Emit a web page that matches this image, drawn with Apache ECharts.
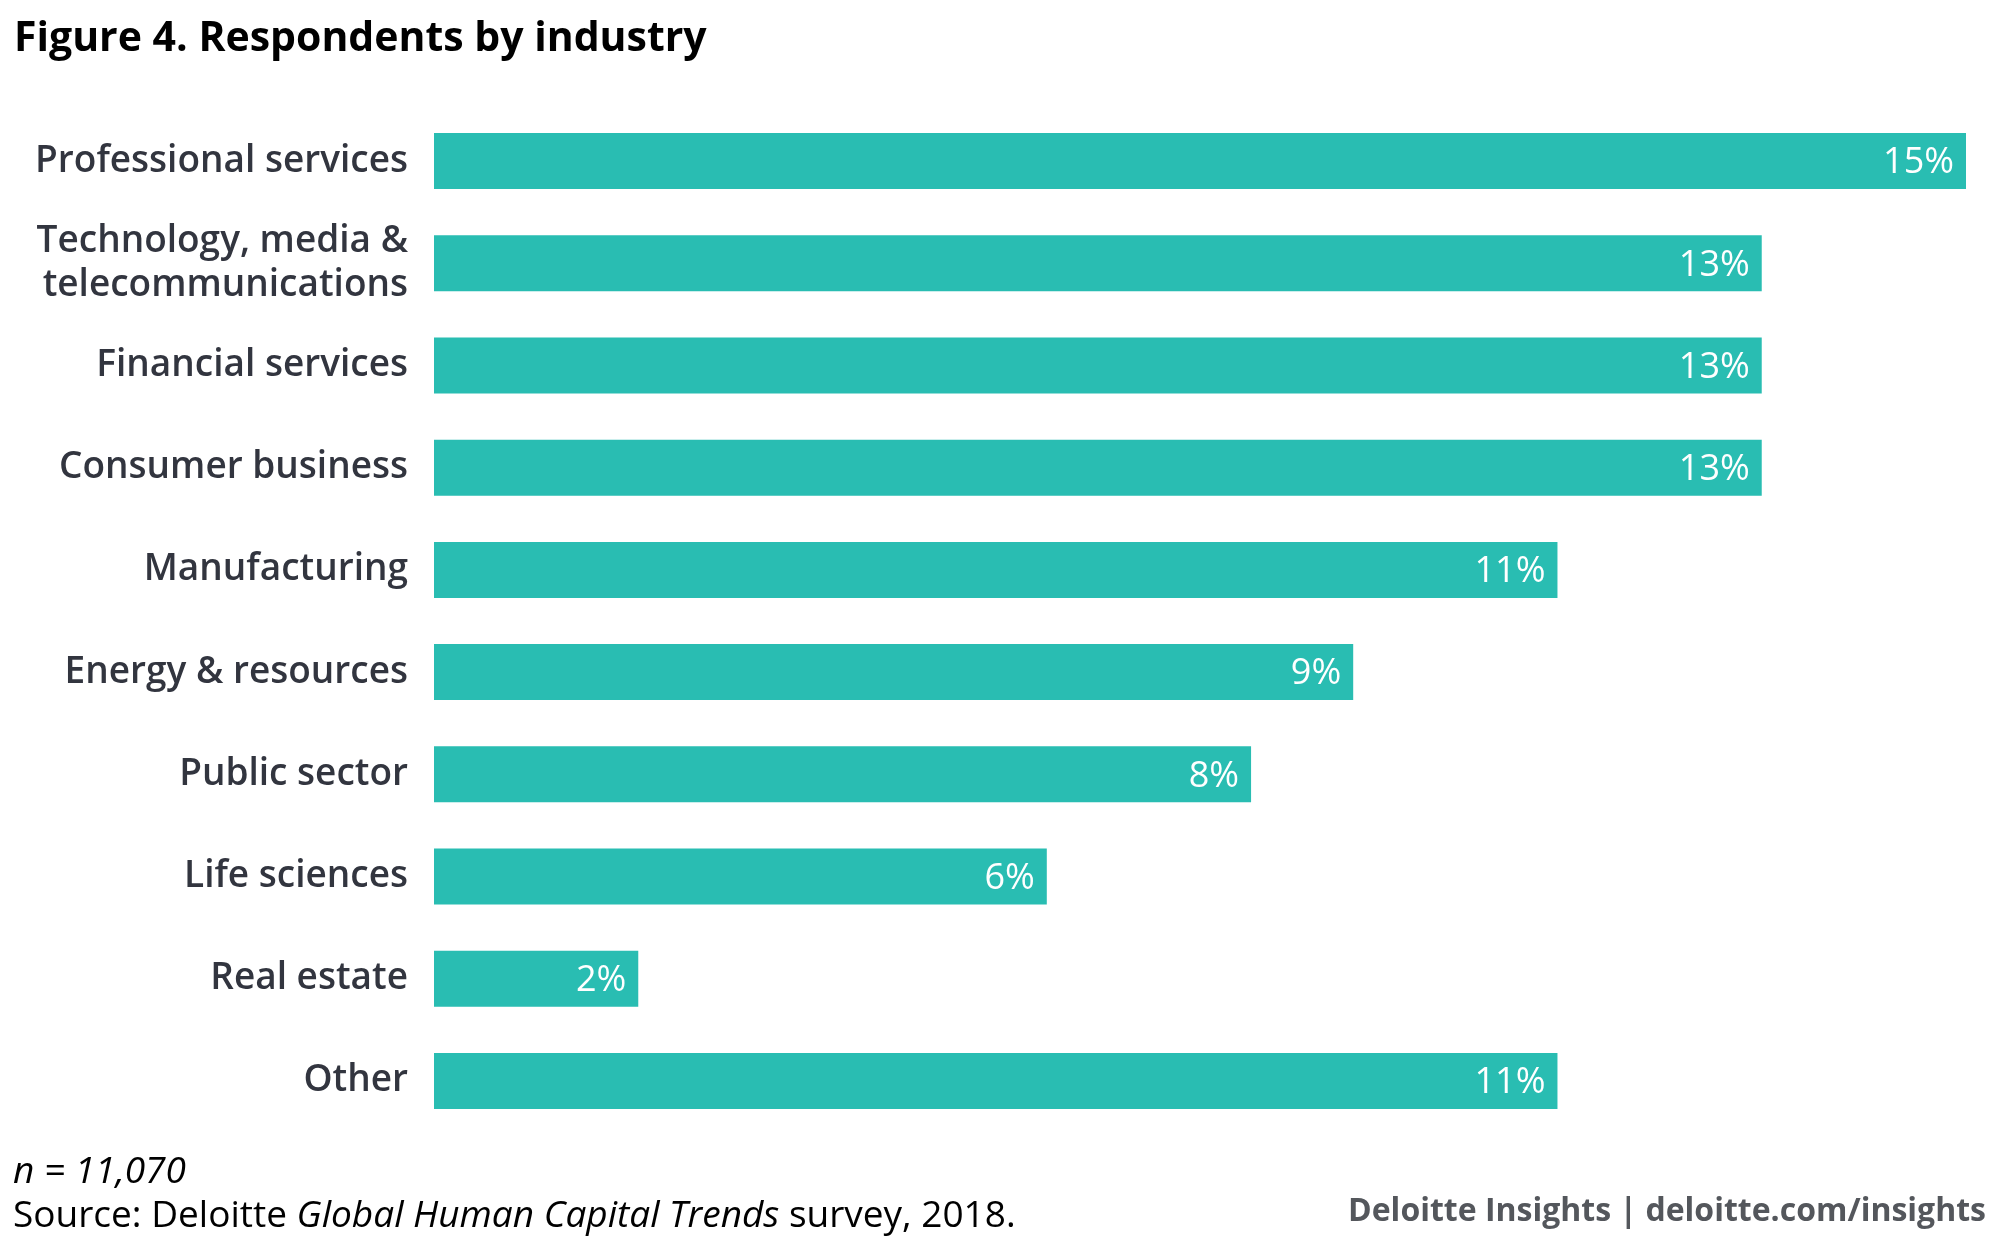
<!DOCTYPE html>
<html>
<head>
<meta charset="utf-8">
<script src="https://cdn.jsdelivr.net/npm/echarts@6/dist/echarts.min.js"></script>
<style>
html,body{margin:0;padding:0;background:#fff;}
#chart{width:2000px;height:1241px;}
</style>
</head>
<body>
<div id="chart"></div>
<script>
const categories = [
  'Professional services',
  'Technology, media &\ntelecommunications',
  'Financial services',
  'Consumer business',
  'Manufacturing',
  'Energy & resources',
  'Public sector',
  'Life sciences',
  'Real estate',
  'Other'
];
const values = [15, 13, 13, 13, 11, 9, 8, 6, 2, 11];
const titleText = 'Figure 4. Respondents by industry';
const noteText = 'n = 11,070';
const sourceText = 'Source: Deloitte {i|Global Human Capital Trends} survey, 2018.';
const brandText = 'Deloitte Insights | deloitte.com/insights';

const chart = echarts.init(document.getElementById('chart'));
const FONT = '"Open Sans", "Noto Sans", sans-serif';
chart.setOption({
  backgroundColor: '#ffffff',
  animation: false,
  title: [
    {
      text: titleText, left: 9, top: 14,
      textStyle: { fontFamily: FONT, fontWeight: 'bold', fontSize: 41, color: '#000000' }
    },
    {
      text: noteText, left: 8, top: 1149,
      textStyle: { fontFamily: FONT, fontStyle: 'italic', fontWeight: 'normal', fontSize: 37, color: '#000000' }
    },
    {
      text: sourceText, left: 8, top: 1193,
      textStyle: { fontFamily: FONT, fontWeight: 'normal', fontSize: 37, color: '#000000',
        rich: { i: { fontFamily: FONT, fontStyle: 'italic', fontSize: 37, color: '#000000' } } }
    },
    {
      text: brandText, right: 9, top: 1191,
      textStyle: { fontFamily: FONT, fontWeight: 'bold', fontSize: 32, color: '#54575c' }
    }
  ],
  grid: { left: 434, right: 34, top: 110, bottom: 109, containLabel: false },
  xAxis: {
    type: 'value', min: 0, max: 15,
    show: false
  },
  yAxis: {
    type: 'category', data: categories, inverse: true,
    axisLine: { show: false }, axisTick: { show: false },
    axisLabel: {
      margin: 26, fontFamily: FONT, fontWeight: 600, fontSize: 37,
      color: '#32353f', lineHeight: 44, align: 'right'
    }
  },
  series: [{
    type: 'bar', data: values, barWidth: 56,
    itemStyle: { color: '#29bdb2' },
    label: {
      show: true, position: 'insideRight', distance: 12, offset: [0, 2],
      formatter: p => p.value + '%',
      fontFamily: FONT, fontWeight: 'normal', fontSize: 36, color: '#ffffff'
    }
  }]
});
</script>
</body>
</html>
